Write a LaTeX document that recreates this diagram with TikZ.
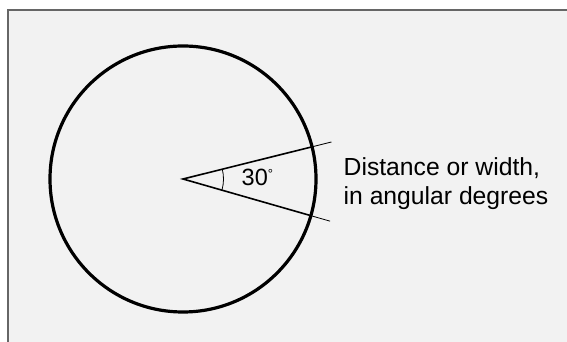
\documentclass[tikz,border=0pt]{standalone}
\usepackage{fontspec}
\setmainfont{Liberation Sans}
\usetikzlibrary{calc}
\begin{document}
\begin{tikzpicture}[x=1pt,y=1pt,
  frame/.style={draw=black!60, line width=1.5pt, fill=black!5},
  ring/.style={circle, draw, line width=3.2pt, minimum size=266pt, inner sep=0pt, outer sep=0pt},
  thickray/.style={line width=1.6pt},
  thinray/.style={line width=0.8pt},
  lbl/.style={font=\fontsize{24.7}{28.3}\selectfont, inner sep=0pt, align=left, anchor=base west},
  anglbl/.style={font=\fontsize{23.5}{27}\selectfont, inner sep=0pt, anchor=base west}]
\useasboundingbox (0,0) rectangle (567,342);
\draw[frame] (8,332) rectangle (590,-20);
\coordinate (O) at (183,163);
\node[ring] (C) at (O) {};
\coordinate (E1) at ($(O)+(14:153pt)$);
\coordinate (E2) at ($(O)+(-16:153pt)$);
\draw[thickray, line join=miter] (C.14) -- (O) -- (C.-16);
\draw[thinray] (C.14) -- (E1);
\draw[thinray] (C.-16) -- (E2);
\coordinate (A1) at ($(O)+(14:40.5pt)$);
\draw[thinray] (A1) arc[start angle=14, end angle=-16, radius=40.5pt];
\node[anglbl] (ang) at (241.5,156) {30{\fontsize{13}{13}\selectfont\raisebox{7pt}{°}}};
\node[lbl] (txt) at (343.5,137.7) {Distance or width,\\in angular degrees};
\end{tikzpicture}
\end{document}
